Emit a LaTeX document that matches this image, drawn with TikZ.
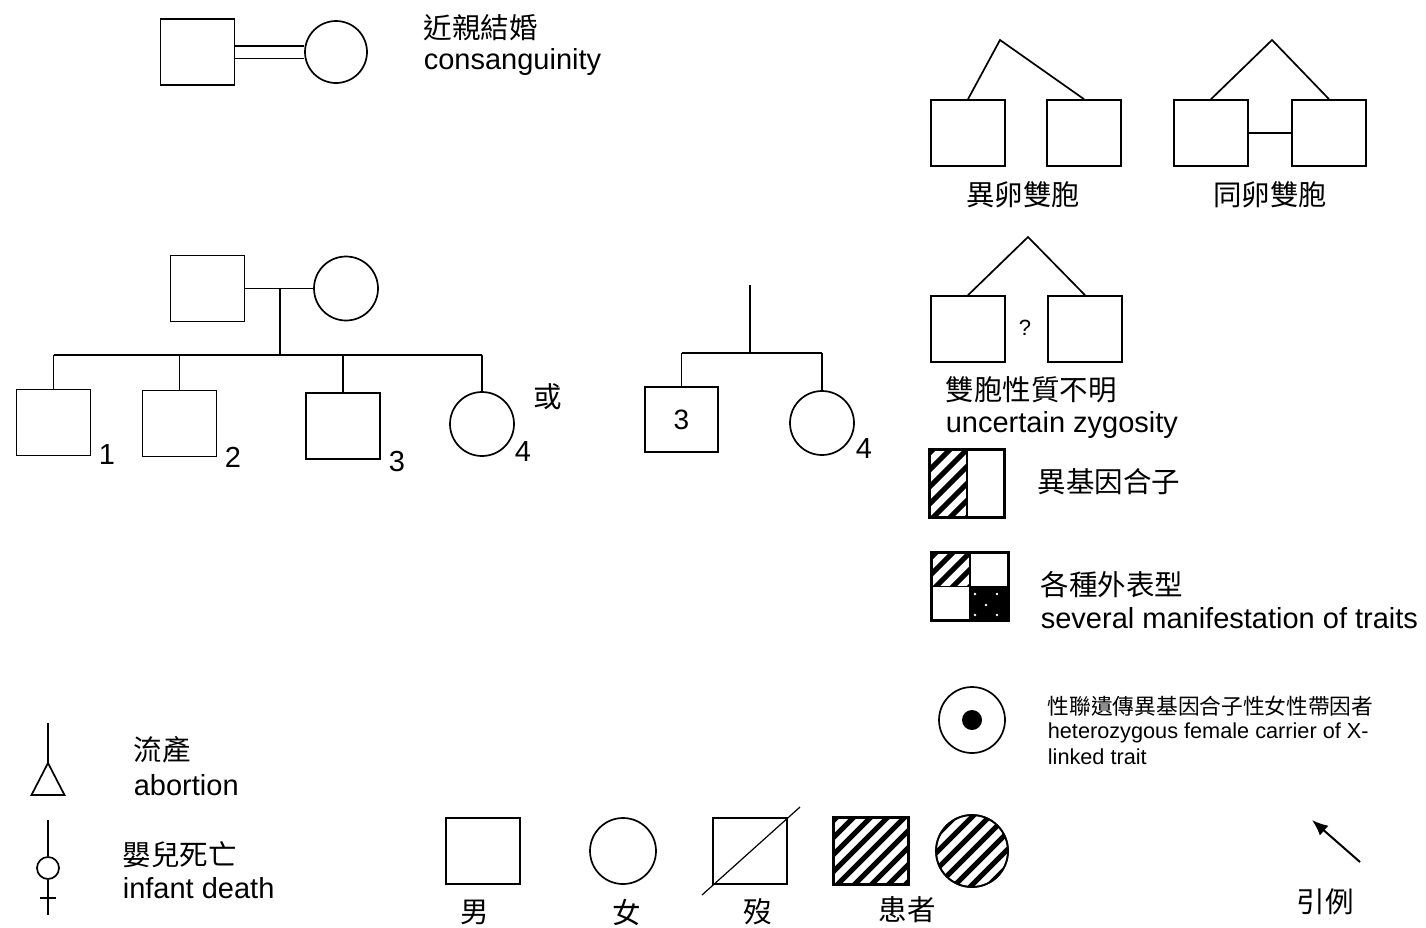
\documentclass[tikz,border=0pt]{standalone}
\usepackage{fontspec}
\setmainfont{Liberation Sans}
\newfontfamily\cjk{Noto Sans CJK TC}
\usetikzlibrary{calc,arrows.meta}
\begin{document}
\begin{tikzpicture}[x=1pt,y=-1pt,line width=1.7pt,
  sq/.style={draw,rectangle,minimum width=74pt,minimum height=66pt,inner sep=0pt},
  ci/.style={draw,circle,minimum size=64pt,inner sep=0pt},
  en/.style={font=\fontsize{29}{33}\selectfont,inner sep=0pt},
  cj/.style={font=\cjk\fontsize{28.5}{33}\selectfont,inner sep=0pt},
  sm/.style={font=\fontsize{21.7}{25}\selectfont,inner sep=0pt},
  smcj/.style={font=\cjk\fontsize{21.7}{25}\selectfont,inner sep=0pt},
  hatchline/.style={line width=5pt}]
\useasboundingbox (0,0) rectangle (1426,927);

% consanguinity
\node[sq] (cs) at (197.5,52) {};
\node[ci,minimum size=62pt] (cc) at (336,52) {};
\draw[double distance=11pt] (cs.east) -- (cc.west);
\node[cj,anchor=west] (t1) at (423,28) {近親結婚};
\node[en,anchor=west] (t2) at (423,62) {consanguinity};

% dizygotic twins
\coordinate (da) at (1000,40);
\node[sq] (d1) at (968,133) {};
\node[sq] (d2) at (1084,133) {};
\draw (d1.north) -- (da) -- (d2.north);
\node[cj] (dl) at (1023,195) {異卵雙胞};

% monozygotic twins
\coordinate (ma) at (1272,40);
\node[sq] (m1) at (1211,133) {};
\node[sq] (m2) at (1329,133) {};
\draw (m1.north) -- (ma) -- (m2.north);
\draw (m1.east) -- (m2.west);
\node[cj] (ml) at (1270,195) {同卵雙胞};

% uncertain zygosity
\coordinate (ua) at (1028,237);
\node[sq] (u1) at (968,329) {};
\node[sq] (u2) at (1085,329) {};
\draw (u1.north) -- (ua) -- (u2.north);
\node[font=\fontsize{22}{26}\selectfont,inner sep=0pt] (uq) at (1025,328) {?};
\node[cj,anchor=west] (ul1) at (945,390) {雙胞性質不明};
\node[en,anchor=west] (ul2) at (945,425) {uncertain zygosity};

% heterozygote
\node[sq,minimum height=67pt] (hz) at (967,483.5) {};
\begin{scope}
  \clip (hz.north west) rectangle (hz.south);
  \foreach \k in {-119,-102,...,119} \draw[hatchline] ($(hz.center)+(\k-80,80)$) -- ++(160,-160);
\end{scope}
\draw (hz.north west) rectangle (hz.south east);
\draw (hz.north) -- (hz.south);
\node[cj,anchor=west] (hzl) at (1037,482) {異基因合子};

% several manifestation
\node[sq,minimum width=76pt,minimum height=67pt] (sv) at (970,586.5) {};
\begin{scope}
  \clip (sv.north west) rectangle (sv.center);
  \foreach \k in {-119,-102,...,119} \draw[hatchline] ($(sv.center)+(\k-80,80)$) -- ++(160,-160);
\end{scope}
\fill (sv.center) rectangle (sv.south east);
\foreach \p in {(975,594),(997,594),(986,605),(975,615),(997,615)} \fill[white] \p circle (1.3);
\draw (sv.north west) rectangle (sv.south east);
\draw (sv.north) -- (sv.south);
\draw (sv.west) -- (sv.east);
\node[cj,anchor=west] (svl1) at (1040,585) {各種外表型};
\node[en,anchor=west] (svl2) at (1040,618) {several manifestation of traits};

% carrier
\node[ci,minimum size=66pt] (cr) at (972,720) {};
\fill (cr.center) circle (10);
\node[smcj,anchor=west] (crl1) at (1047,706) {性聯遺傳異基因合子性女性帶因者};
\node[sm,anchor=west] (crl2) at (1047,733) {heterozygous female carrier of X-};
\node[sm,anchor=west] (crl3) at (1047,757) {linked trait};

% sibship 1
\node[sq] (pf) at (207.5,288.5) {};
\node[ci] (pm) at (346,288.5) {};
\draw (pf.east) -- (pm.west);
\coordinate (pm1) at (280,288.5);
\coordinate (ps1) at (280,355);
\draw (pm1) -- (ps1);
\node[sq] (c1) at (53.5,422.5) {};
\node[sq] (c2) at (179.5,423.5) {};
\node[sq] (c3) at (343,426) {};
\node[ci] (c4) at (482,424) {};
\draw (c1.north |- ps1) -- (c4.north |- ps1);
\foreach \c in {c1,c2,c3,c4} \draw (\c.north) -- (\c.north |- ps1);
\node[en] (n1) at (107,455) {1};
\node[en] (n2) at (233,457) {2};
\node[en] (n3) at (397,462) {3};
\node[en] (n4) at (523,452) {4};
\node[cj] (or) at (548,397) {或};

% sibship 2
\coordinate (qt) at (750,285);
\coordinate (qs) at (750,353);
\draw (qt) -- (qs);
\node[sq,minimum width=73pt,minimum height=65pt,font=\fontsize{28}{32}\selectfont] (e3) at (681.5,419.5) {3};
\node[ci] (e4) at (822,423) {};
\draw (e3.north |- qs) -- (e4.north |- qs);
\draw (e3.north) -- (e3.north |- qs);
\draw (e4.north) -- (e4.north |- qs);
\node[en] (n5) at (864,449) {4};

% abortion
\coordinate (abt) at (48,723);
\coordinate (aba) at (48,763);
\draw (abt) -- (aba);
\draw (aba) -- ++(-16.5,32) -- ++(33,0) -- cycle;
\node[cj,anchor=west] (abl1) at (133,750) {流產};
\node[en,anchor=west] (abl2) at (133,785) {abortion};

% infant death
\node[draw,circle,minimum size=22pt,inner sep=0pt] (id) at (48,868) {};
\coordinate (idt) at (48,820);
\coordinate (idb) at (48,915);
\draw (idt) -- (id.north);
\draw (id.south) -- (idb);
\draw (40,898) -- (56,898);
\node[cj,anchor=west] (idl1) at (122,855) {嬰兒死亡};
\node[en,anchor=west] (idl2) at (122,888) {infant death};

% bottom legend
\node[sq] (male) at (483,851) {};
\node[cj] (malel) at (475,912) {男};
\node[ci,minimum size=66pt] (fem) at (623,851) {};
\node[cj] (feml) at (627,912) {女};
\node[sq] (dec) at (750,851) {};
\coordinate (dd1) at (702,895);
\coordinate (dd2) at (800,807);
\draw[line width=1.2pt] (dd1) -- (dd2);
\node[cj] (decl) at (758,912) {歿};
\node[sq] (aff) at (871,851) {};
\begin{scope}
  \clip (aff.north west) rectangle (aff.south east);
  \foreach \k in {-136,-119,...,136} \draw[hatchline] ($(aff.center)+(\k-80,80)$) -- ++(160,-160);
\end{scope}
\draw (aff.north west) rectangle (aff.south east);
\node[ci,minimum size=72pt] (afc) at (972,851) {};
\begin{scope}
  \clip (afc.center) circle (36);
  \foreach \k in {-136,-119,...,136} \draw[hatchline] ($(afc.center)+(\k-80,80)$) -- ++(160,-160);
\end{scope}
\draw (afc.center) circle (36);
\node[cj] (affl) at (907,910) {患者};

% proband
\coordinate (pa1) at (1360,862);
\coordinate (pa2) at (1312,820);
\draw[line width=2pt,-{Latex[length=16pt,width=13pt]}] (pa1) -- (pa2);
\node[cj] (pal) at (1325,902) {引例};
\end{tikzpicture}
\end{document}
